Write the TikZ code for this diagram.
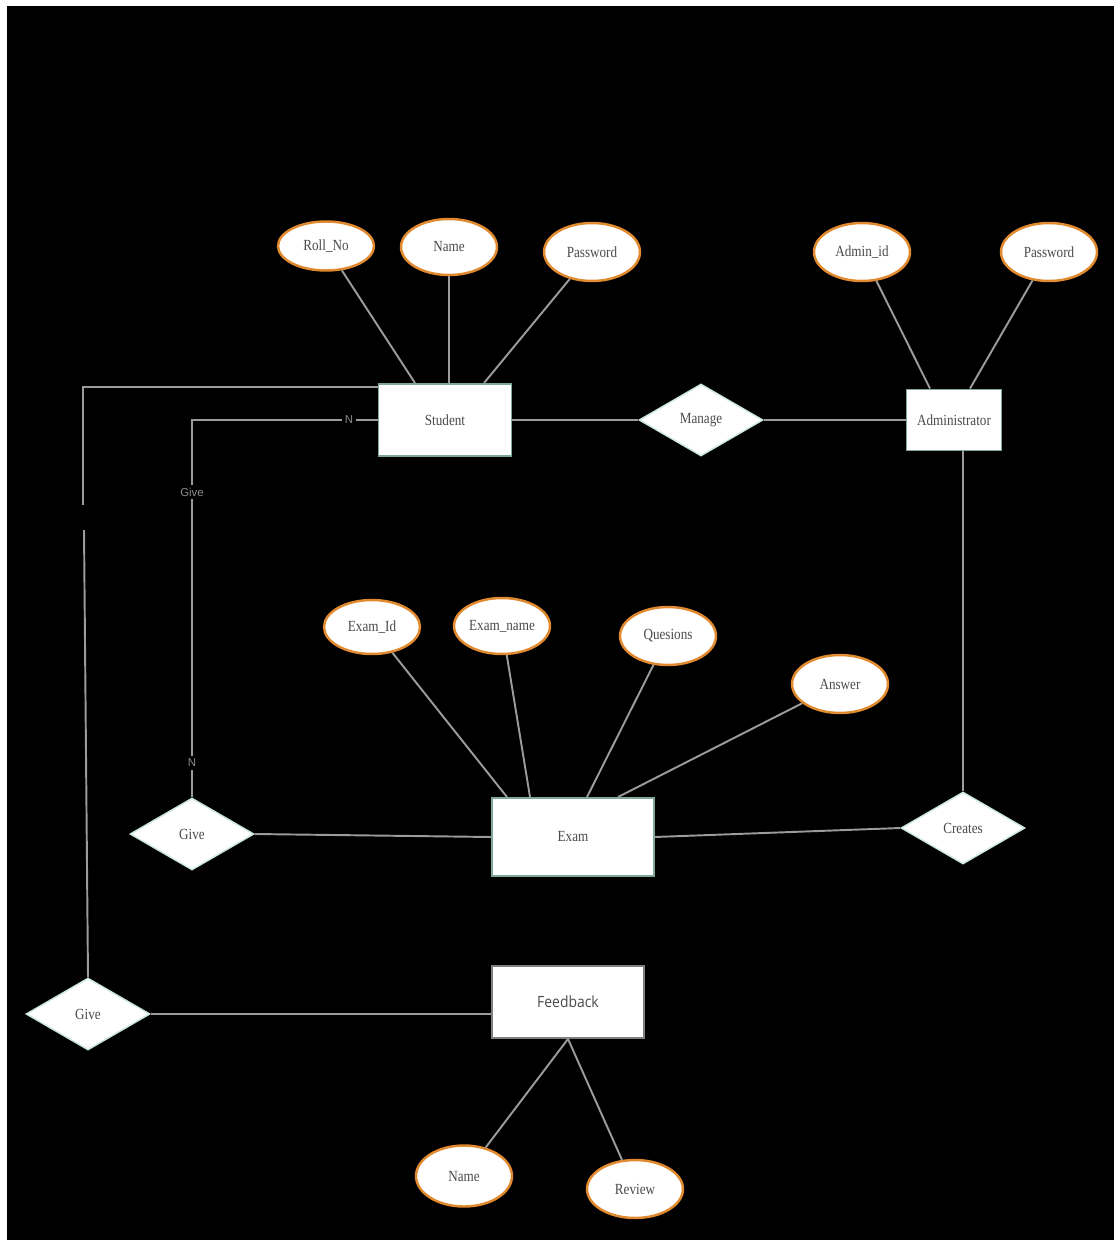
\documentclass[tikz,border=0pt]{standalone}
\usepackage{fontspec}
\setmainfont{Liberation Serif}[FakeStretch=0.85]
\newfontfamily\fbfont{Open Sans}[FakeStretch=0.9]
\newfontfamily\cardfont{Liberation Sans}
\usetikzlibrary{shapes.geometric}

\definecolor{linegray}{HTML}{9B9B9B}
\definecolor{attrorange}{HTML}{E0892E}
\definecolor{boxedge}{HTML}{7FA797}
\definecolor{diaedge}{HTML}{C9E6DA}
\definecolor{txtgray}{HTML}{4A4A4A}
\definecolor{cardgray}{HTML}{8C8C8C}

\tikzstyle{entity}=[draw=boxedge, fill=white, line width=1.1pt, text=txtgray, font=\fontsize{8.8}{10}\selectfont]
\tikzstyle{attr}=[ellipse, draw=attrorange, fill=white, line width=1.4pt, minimum width=1.92cm, minimum height=1.16cm, inner sep=0pt, text=txtgray, font=\fontsize{8.8}{10}\selectfont]
\tikzstyle{rel}=[diamond, draw=diaedge, fill=white, line width=0.8pt, minimum width=2.48cm, minimum height=1.44cm, inner sep=0pt, text=txtgray, font=\fontsize{8.8}{10}\selectfont]
\tikzstyle{card}=[fill=black, inner sep=1.5pt, text=cardgray, font=\cardfont\fontsize{6.5}{7}\selectfont]
\tikzstyle{link}=[draw=linegray, line width=1.1pt]

\begin{document}
\begin{tikzpicture}[x=0.02cm, y=-0.02cm]
      \fill[white] (0,0) rectangle (1114,1240);
      \fill[black] (7,6) rectangle (1114,1240);

      % entities and relations
      \node[entity, minimum width=2.66cm, minimum height=1.44cm] (st) at (445,420) {Student};
      \node[rel] (mg) at (701,420) {Manage};
      \node[entity, minimum width=1.9cm, minimum height=1.22cm] (ad) at (954,420) {Administrator};
      \node[entity, minimum width=3.24cm, minimum height=1.56cm] (ex) at (573,837) {Exam};
      \node[rel] (gv1) at (192,834) {Give};
      \node[rel] (cr) at (963,828) {Creates};
      \node[rel] (gv2) at (88,1014) {Give};
      \node[entity, draw=gray, minimum width=3.04cm, minimum height=1.44cm, font=\fbfont\fontsize{8.8}{10}\selectfont] (fb) at (568,1002) {Feedback};

      % attributes
      \node[attr, minimum height=0.98cm] (rn) at (326,246) {Roll\_No};
      \node[attr, minimum height=1.12cm] (sn) at (449,247) {Name};
      \node[attr] (sp) at (592,252) {Password};
      \node[attr] (ai) at (862,252) {Admin\_id};
      \node[attr] (ap) at (1049,252) {Password};
      \node[attr, minimum height=1.08cm] (ei) at (372,627) {Exam\_Id};
      \node[attr, minimum height=1.12cm] (en) at (502,626) {Exam\_name};
      \node[attr] (eq) at (668,636) {Quesions};
      \node[attr] (ea) at (840,684) {Answer};
      \node[attr, minimum height=1.22cm] (fn) at (464,1176) {Name};
      \node[attr] (rv) at (635,1189) {Review};

      \coordinate (lt) at (83,387);
      \coordinate (lg1) at (83,505);
      \coordinate (lg2) at (84,530);

      \draw[link] (rn) to ([xshift=-0.6cm]st.north);
      \draw[link] (sn) to ([xshift=0.08cm]st.north);
      \draw[link] (sp) to ([xshift=0.78cm]st.north);
      \draw[link] (ai) to ([xshift=-0.48cm]ad.north);
      \draw[link] (ap) to ([xshift=0.32cm]ad.north);
      \draw[link] (st.east) to (mg.west);
      \draw[link] (mg.east) to (ad.west);
      \draw[link] (cr.north |- ad.south) to (cr.north);
      \draw[link] (ei) to ([xshift=-1.32cm]ex.north);
      \draw[link] (en) to ([xshift=-0.86cm]ex.north);
      \draw[link] (eq) to ([xshift=0.28cm]ex.north);
      \draw[link] (ea) to ([xshift=0.9cm]ex.north);
      \draw[link] (ex.east) to (cr.west);
      \draw[link] (gv1.east) to (ex.west);
      \draw[link] (gv1.north) -- (gv1.north |- st.west) -- (st.west);
      \draw[link] (lt -| st.west) -- (lt) -- (lg1);
      \draw[link] (lg2) -- (gv2.north);
      \draw[link] (gv2.east) -- (gv2.east -| fb.west);
      \draw[link] (fb.south) to (fn);
      \draw[link] (fb.south) to (rv);

      \node[card] (c1) at (349,420) {N};
      \node[card] (c2) at (192,492) {Give};
      \node[card] (c3) at (192,763) {N};
    \end{tikzpicture}
\end{document}
